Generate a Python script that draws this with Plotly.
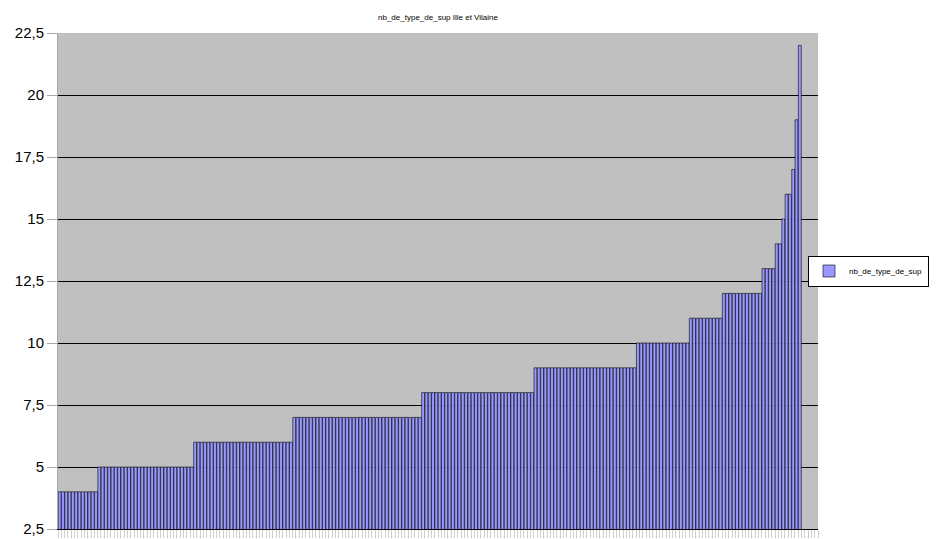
import plotly.graph_objects as go

title_text = "nb_de_type_de_sup Ille et Vilaine"
series_name = "nb_de_type_de_sup"

values = [
    4, 4, 4, 4, 4, 4, 4, 4, 4, 4, 4, 4,
    5, 5, 5, 5, 5, 5, 5, 5, 5, 5, 5, 5, 5, 5, 5, 5, 5, 5, 5, 5, 5, 5, 5, 5, 5, 5, 5, 5, 5,
    6, 6, 6, 6, 6, 6, 6, 6, 6, 6, 6, 6, 6, 6, 6, 6, 6, 6, 6, 6, 6, 6, 6, 6, 6, 6, 6, 6, 6, 6,
    7, 7, 7, 7, 7, 7, 7, 7, 7, 7, 7, 7, 7, 7, 7, 7, 7, 7, 7, 7, 7, 7, 7, 7, 7, 7, 7, 7, 7, 7,
    7, 7, 7, 7, 7, 7, 7, 7, 7,
    8, 8, 8, 8, 8, 8, 8, 8, 8, 8, 8, 8, 8, 8, 8, 8, 8, 8, 8, 8, 8, 8, 8, 8, 8, 8, 8, 8, 8, 8,
    8, 8, 8, 8,
    9, 9, 9, 9, 9, 9, 9, 9, 9, 9, 9, 9, 9, 9, 9, 9, 9, 9, 9, 9, 9, 9, 9, 9, 9, 9, 9, 9, 9, 9, 9,
    10, 10, 10, 10, 10, 10, 10, 10, 10, 10, 10, 10, 10, 10, 10, 10,
    11, 11, 11, 11, 11, 11, 11, 11, 11, 11,
    12, 12, 12, 12, 12, 12, 12, 12, 12, 12, 12, 12,
    13, 13, 13, 13,
    14, 14,
    15,
    16, 16,
    17,
    19,
    22,
]

n_categories = 230
categories = list(range(len(values)))

y_tickvals = [2.5, 5, 7.5, 10, 12.5, 15, 17.5, 20, 22.5]
y_ticktext = ["2,5", "5", "7,5", "10", "12,5", "15", "17,5", "20", "22,5"]

FIG_W, FIG_H = 929, 531  # page body has an 8px margin

fig = go.Figure()
fig.add_trace(go.Bar(
    x=categories,
    y=values,
    name=series_name,
    marker=dict(color="#9999FF", line=dict(color="#000000", width=0.6)),
    showlegend=True,
))

fig.update_layout(
    width=FIG_W,
    height=FIG_H,
    margin=dict(l=50, r=119, t=25, b=10, autoexpand=False),
    paper_bgcolor="#FFFFFF",
    plot_bgcolor="#C0C0C0",
    bargap=0.12,
    font=dict(family="Liberation Sans, Arial, sans-serif", color="#000000"),
    title=dict(
        text=title_text,
        x=430 / FIG_W,
        xanchor="center",
        y=1 - 9 / FIG_H,
        yanchor="middle",
        font=dict(size=8, family="Liberation Sans, Arial, sans-serif", color="#000000"),
    ),
    legend=dict(
        xref="container",
        yref="container",
        x=800 / FIG_W,
        xanchor="left",
        y=1 - 263 / FIG_H,
        yanchor="middle",
        bgcolor="#FFFFFF",
        bordercolor="#000000",
        borderwidth=1,
        itemwidth=30,
        font=dict(size=8, family="Liberation Sans, Arial, sans-serif", color="#000000"),
    ),
    xaxis=dict(
        range=[-0.5, n_categories - 0.5],
        automargin=False,
        showgrid=False,
        zeroline=False,
        showline=True,
        linecolor="#000000",
        linewidth=1,
        ticks="outside",
        ticklen=8,
        tickcolor="#D0D0D0",
        tickwidth=1,
        tickmode="linear",
        tick0=-0.5,
        dtick=1,
        showticklabels=False,
    ),
    yaxis=dict(
        range=[2.5, 22.5],
        automargin=False,
        tickmode="array",
        tickvals=y_tickvals,
        ticktext=y_ticktext,
        showgrid=True,
        gridcolor="#000000",
        gridwidth=1,
        zeroline=False,
        showline=True,
        linecolor="#A8A8A8",
        ticks="outside",
        ticklen=10,
        tickcolor="#A8A8A8",
        tickfont=dict(size=15, family="Liberation Sans, Arial, sans-serif", color="#000000"),
    ),
)

fig.write_html("out.html")
